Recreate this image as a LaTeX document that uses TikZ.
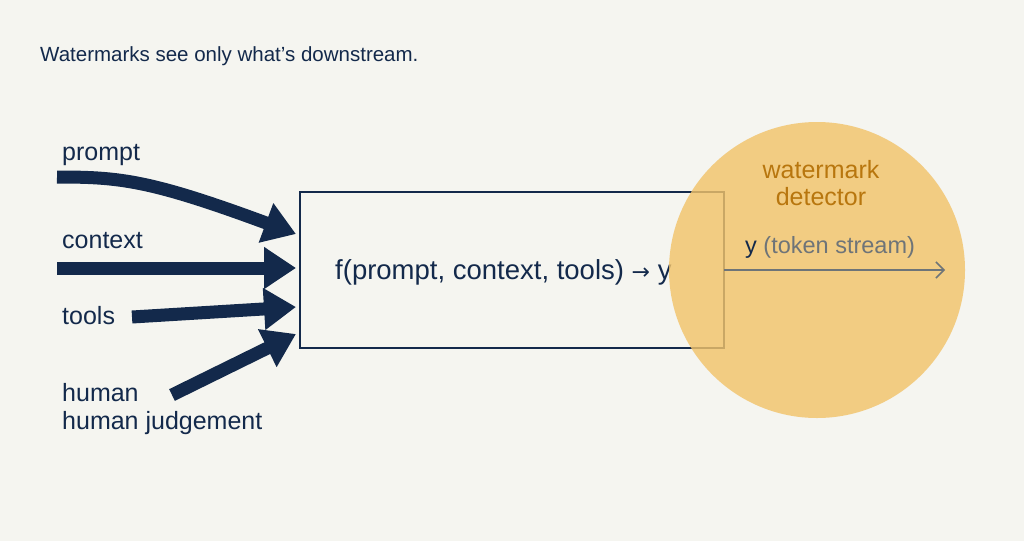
\documentclass[tikz,border=0pt]{standalone}
\usepackage{fontspec}
\setmainfont{Liberation Sans}
\newfontfamily\symf{DejaVu Sans}
\usetikzlibrary{arrows.meta}
\definecolor{navy}{HTML}{13294B}
\definecolor{gold}{HTML}{F2C36B}
\definecolor{goldtxt}{HTML}{B8760E}
\definecolor{greyc}{HTML}{6E7478}
\definecolor{bg}{HTML}{F5F5F0}
\begin{document}
\begin{tikzpicture}[x=1pt,y=-1pt,
  big/.style={navy,line width=13pt,-{Triangle[length=32pt,width=40pt]}},
  lbl/.style={anchor=west,text=navy,font=\fontsize{25}{28}\selectfont,inner sep=0pt}]
\fill[bg] (0,0) rectangle (1024,541);
\useasboundingbox (0,0) rectangle (1024,541);
\node[anchor=west,text=navy,font=\fontsize{20.5}{24}\selectfont,inner sep=0pt] (title) at (40,56) {Watermarks see only what’s downstream.};
\node[draw=navy,line width=2pt,minimum width=424pt,minimum height=156pt,inner sep=0pt] (box) at (512,270) {};
\node[text=navy,font=\fontsize{27.5}{30}\selectfont,anchor=west,inner sep=0pt] (f) at (335,272) {f(prompt, context, tools) {\symf\fontsize{22}{26}\selectfont →} y};
\node[circle,fill=gold,fill opacity=0.82,minimum size=296pt,inner sep=0pt] (det) at (817,270) {};
\node[text=goldtxt,font=\fontsize{25}{27}\selectfont,align=center,inner sep=0pt] (dl) at (821,183) {watermark\\detector};
\coordinate (out) at (724,270);
\coordinate (end) at (945,270);
\draw[greyc,line width=1.5pt,-{Straight Barb[length=8pt,width=16pt]}] (out) -- (end);
\node[anchor=west,font=\fontsize{23.5}{26}\selectfont,inner sep=0pt] (ts) at (745,247) {\textcolor{navy}{y} \textcolor{greyc}{(token stream)}};
\node[lbl] (p) at (62,155) {prompt};
\node[lbl] (c) at (62,241) {context};
\node[lbl] (t) at (62,316) {tools};
\node[lbl,align=left] (h) at (62,409) {human\\human judgement};
\coordinate (ps) at (57,177); \coordinate (pe) at (296,234);
\coordinate (cs) at (57,268); \coordinate (ce) at (296,268);
\coordinate (ts0) at (132,317); \coordinate (te) at (296,307);
\coordinate (hs) at (172,395); \coordinate (he) at (296,334);
\draw[big] (ps) .. controls (120,177) and (150,180) .. (pe);
\draw[big] (cs) -- (ce);
\draw[big] (ts0) -- (te);
\draw[big] (hs) -- (he);
\end{tikzpicture}
\end{document}
